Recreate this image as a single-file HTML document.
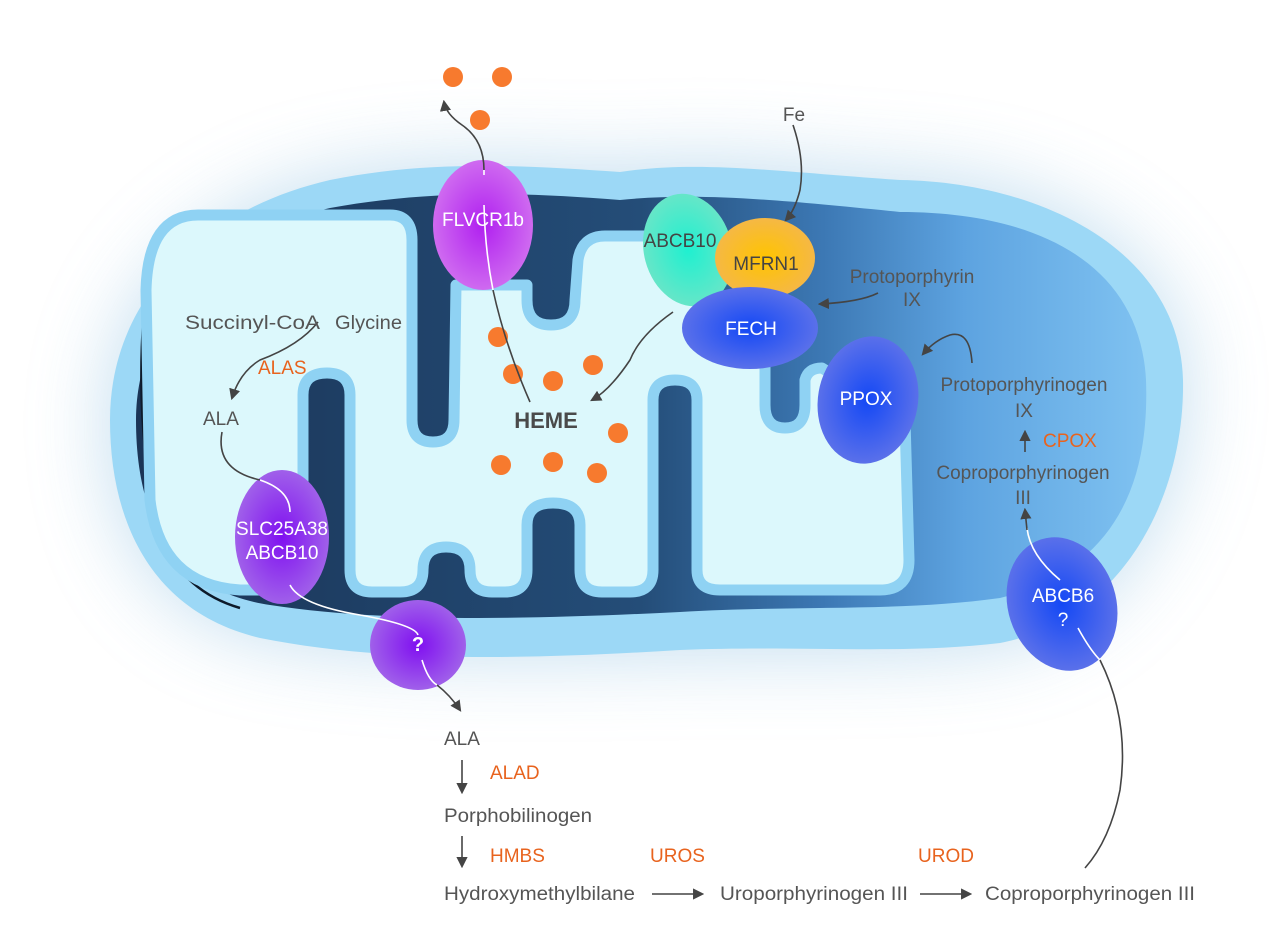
<!DOCTYPE html>
<html><head><meta charset="utf-8"><style>
html,body{margin:0;padding:0;background:#fff;}
svg{display:block;font-family:"Liberation Sans",sans-serif;}
</style></head><body>
<svg width="1280" height="934" viewBox="0 0 1280 934" xmlns="http://www.w3.org/2000/svg">
<defs>
<filter id="blur40" x="-30%" y="-30%" width="160%" height="160%"><feGaussianBlur stdDeviation="40"/></filter>
<linearGradient id="ims" x1="0" y1="0" x2="1" y2="0">
<stop offset="0" stop-color="#1a3456"/><stop offset="0.5" stop-color="#244d78"/>
<stop offset="0.68" stop-color="#3c78b4"/><stop offset="0.82" stop-color="#5da3e0"/><stop offset="1" stop-color="#7fc2f1"/></linearGradient>
<radialGradient id="gTeal"><stop offset="0" stop-color="#1ff0d0"/><stop offset="1" stop-color="#66e6c8"/></radialGradient>
<radialGradient id="gOr"><stop offset="0" stop-color="#ffc400"/><stop offset="1" stop-color="#f5b845"/></radialGradient>
<radialGradient id="gBlue"><stop offset="0" stop-color="#1448f5"/><stop offset="1" stop-color="#5a70ea"/></radialGradient>
<radialGradient id="gMag"><stop offset="0" stop-color="#b020f0"/><stop offset="1" stop-color="#cf6af0"/></radialGradient>
<radialGradient id="gPur"><stop offset="0" stop-color="#8010f0"/><stop offset="1" stop-color="#a060ea"/></radialGradient>
<marker id="ar" viewBox="0 0 10 10" refX="8" refY="5" markerWidth="7" markerHeight="7" orient="auto"><path d="M0,0 L10,5 L0,10 z" fill="#444"/></marker>
</defs>

<path d="M110,420 C110,300 200,210 330,180 C430,160 520,165 620,170 C700,158 780,170 900,178 C1040,180 1180,250 1183,380 C1185,500 1120,620 1000,643 C900,655 800,650 680,652 C520,655 380,658 260,635 C150,610 110,520 110,420 Z" fill="#a8cfe8" opacity="0.7" filter="url(#blur40)"/>

<path d="M110,420 C110,300 200,210 330,180 C430,160 520,165 620,172 C700,160 780,172 900,180 C1040,182 1180,250 1183,380 C1185,500 1120,620 1000,643 C900,655 800,645 680,650 C520,660 380,662 260,638 C150,612 110,520 110,420 Z" fill="#9cd8f6"/>
<path d="M136,420 C136,320 210,235 330,208 C430,190 520,192 620,200 C700,192 780,200 900,212 C1040,212 1140,265 1146,380 C1150,490 1110,570 1000,598 C900,612 800,605 680,612 C520,620 380,622 270,605 C170,590 136,515 136,420 Z" fill="url(#ims)"/>
<path d="M150,250 Q128,420 162,540 Q185,592 240,608" fill="none" stroke="#0d1a2a" stroke-width="2.5"/>

<path d="M198,215 L390,215 Q412,215 412,240 L412,420 Q412,442 433,442 Q454,442 454,420 L456,285 L527,285 L527,300 Q527,325 551,325 Q575,325 575,300 L578,260 Q582,236 605,236 L650,236 L700,300 L760,360 L765,365 L765,405 Q765,428 785,428 Q805,428 805,405 L805,380 Q808,368 822,368 L905,420 L909,560 Q909,590 880,590 L720,590 Q697,590 697,570 L697,400 Q697,380 675,380 Q653,380 653,400 L653,570 Q653,592 630,592 L602,592 Q580,592 580,570 L580,525 Q580,503 553,503 Q527,503 527,525 L527,570 Q527,592 505,592 L492,592 Q470,592 470,570 Q470,547 446,547 Q423,547 423,570 Q423,592 400,592 L372,592 Q350,592 350,570 L350,395 Q350,373 327,373 Q303,373 303,395 L303,560 Q303,590 275,590 L240,590 Q160,585 150,500 L146,290 Q148,215 198,215 Z" fill="#dcf8fc" stroke="#8fd2f3" stroke-width="11" stroke-linejoin="round"/>

<g fill="#f77a2e">
<circle cx="453" cy="77" r="10"/><circle cx="502" cy="77" r="10"/><circle cx="480" cy="120" r="10"/>
<circle cx="498" cy="337" r="10"/><circle cx="513" cy="374" r="10"/><circle cx="553" cy="381" r="10"/><circle cx="593" cy="365" r="10"/>
<circle cx="618" cy="433" r="10"/><circle cx="501" cy="465" r="10"/><circle cx="553" cy="462" r="10"/><circle cx="597" cy="473" r="10"/>
</g>

<ellipse cx="483" cy="225" rx="50" ry="65" fill="url(#gMag)"/>
<ellipse cx="282" cy="537" rx="47" ry="67" fill="url(#gPur)"/>
<ellipse cx="418" cy="645" rx="48" ry="45" fill="url(#gPur)"/>
<ellipse cx="688" cy="250" rx="44" ry="57" fill="url(#gTeal)" transform="rotate(-15 688 250)"/>
<ellipse cx="765" cy="258" rx="50" ry="40" fill="url(#gOr)"/>
<ellipse cx="750" cy="328" rx="68" ry="41" fill="url(#gBlue)"/>
<ellipse cx="868" cy="400" rx="50" ry="64" fill="url(#gBlue)" transform="rotate(10 868 400)"/>
<ellipse cx="1062" cy="604" rx="54" ry="68" fill="url(#gBlue)" transform="rotate(-18 1062 604)"/>

<g fill="none" stroke-width="1.6">
<path d="M530,402 Q505,345 493,290" stroke="#444"/>
<path d="M493,290 Q485,250 484,205" stroke="#fff"/>
<path d="M484,175 L484,170" stroke="#fff"/>
<path d="M484,170 Q484,140 462,125 Q446,114 444,102" stroke="#444" marker-end="url(#ar)"/>
<path d="M318,322 Q300,345 260,360 Q240,372 232,398" stroke="#444" marker-end="url(#ar)"/>
<path d="M222,432 Q215,470 260,480" stroke="#444"/>
<path d="M260,480 Q290,490 290,512" stroke="#fff"/>
<path d="M290,585 Q300,605 360,615 Q415,625 418,635" stroke="#fff"/>
<path d="M422,660 Q428,680 437,685" stroke="#fff"/>
<path d="M437,685 Q450,695 460,710" stroke="#444" marker-end="url(#ar)"/>
<path d="M793,125 Q805,160 800,190 Q795,210 786,220" stroke="#444" marker-end="url(#ar)"/>
<path d="M878,293 Q860,302 820,304" stroke="#444" marker-end="url(#ar)"/>
<path d="M673,312 Q640,335 630,360 Q610,390 592,400" stroke="#444" marker-end="url(#ar)"/>
<path d="M972,363 Q970,330 950,335 Q935,340 923,354" stroke="#444" marker-end="url(#ar)"/>
<path d="M1025,452 L1025,432" stroke="#444" marker-end="url(#ar)"/>
<path d="M1060,580 Q1030,555 1027,528" stroke="#fff"/>
<path d="M1027,530 L1025,510" stroke="#444" marker-end="url(#ar)"/>
<path d="M1078,628 Q1090,650 1100,660" stroke="#fff"/>
<path d="M1100,660 Q1130,720 1120,790 Q1110,840 1085,868" stroke="#444"/>
<path d="M462,760 L462,792" stroke="#444" marker-end="url(#ar)"/>
<path d="M462,836 L462,866" stroke="#444" marker-end="url(#ar)"/>
<path d="M652,894 L702,894" stroke="#444" marker-end="url(#ar)"/>
<path d="M920,894 L970,894" stroke="#444" marker-end="url(#ar)"/>
</g>

<g font-size="19" fill="#555">
<text x="185" y="329" textLength="135" lengthAdjust="spacingAndGlyphs">Succinyl-CoA</text><text x="335" y="329" textLength="67" lengthAdjust="spacingAndGlyphs">Glycine</text>
<text x="203" y="425">ALA</text>
<text x="794" y="121" text-anchor="middle">Fe</text>
<text x="912" y="283" text-anchor="middle">Protoporphyrin</text><text x="912" y="306" text-anchor="middle">IX</text>
<text x="1024" y="391" text-anchor="middle">Protoporphyrinogen</text><text x="1024" y="417" text-anchor="middle">IX</text>
<text x="1023" y="479" text-anchor="middle">Coproporphyrinogen</text><text x="1023" y="504" text-anchor="middle">III</text>
<text x="444" y="745">ALA</text>
<text x="444" y="822" textLength="148" lengthAdjust="spacingAndGlyphs">Porphobilinogen</text>
<text x="444" y="900" textLength="191" lengthAdjust="spacingAndGlyphs">Hydroxymethylbilane</text>
<text x="720" y="900" textLength="188" lengthAdjust="spacingAndGlyphs">Uroporphyrinogen III</text>
<text x="985" y="900" textLength="210" lengthAdjust="spacingAndGlyphs">Coproporphyrinogen III</text>
</g>
<g font-size="19" fill="#e8631e">
<text x="258" y="374">ALAS</text><text x="1043" y="447">CPOX</text>
<text x="490" y="779">ALAD</text><text x="490" y="862">HMBS</text><text x="650" y="862">UROS</text><text x="918" y="862">UROD</text>
</g>
<text x="546" y="428" font-size="22" font-weight="bold" fill="#4a4a4a" text-anchor="middle">HEME</text>
<g font-size="19" fill="#fff" text-anchor="middle">
<text x="483" y="226">FLVCR1b</text>
<text x="282" y="535">SLC25A38</text><text x="282" y="559">ABCB10</text>
<text x="418" y="651" font-weight="bold" font-size="20">?</text>
<text x="751" y="335">FECH</text>
<text x="866" y="405">PPOX</text>
<text x="1063" y="602">ABCB6</text><text x="1063" y="626">?</text>
</g>
<text x="680" y="247" font-size="19" fill="#444" text-anchor="middle">ABCB10</text>
<text x="766" y="270" font-size="19" fill="#444" text-anchor="middle">MFRN1</text>
</svg>
</body></html>
